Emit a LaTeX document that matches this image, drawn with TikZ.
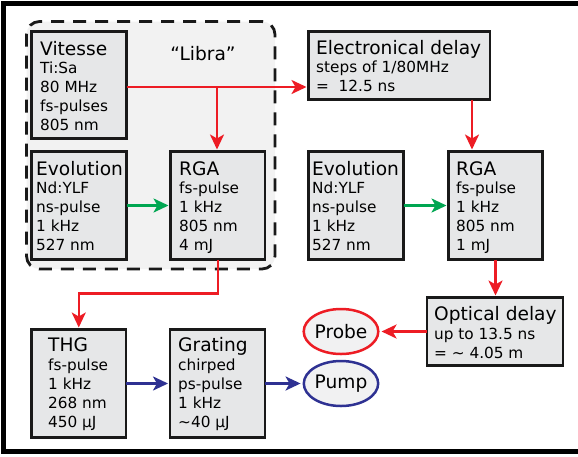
\documentclass[tikz,border=0pt]{standalone}
\usepackage{fontspec}
\setmainfont{DejaVu Sans}
\usetikzlibrary{arrows.meta,shapes.geometric}
\definecolor{lred}{HTML}{ED1C24}
\definecolor{lgreen}{HTML}{00A651}
\definecolor{lblue}{HTML}{2E3192}
\definecolor{boxfill}{HTML}{E6E7E8}
\definecolor{libfill}{HTML}{F2F2F2}
\definecolor{ellfill}{HTML}{F1F1F2}
\newcommand\ttl[1]{{\fontsize{18.6}{18.9}\selectfont #1}}
\tikzset{
  blk/.style={draw=black!90, line width=2.8pt, fill=boxfill, inner sep=0pt, outer sep=0pt, anchor=north west},
  % anchor base west = baseline of the LAST line of the text
  txt/.style={anchor=base west, align=left, inner sep=0pt, font=\fontsize{15.3}{18.9}\selectfont},
  libbox/.style={draw=black!90, line width=2.8pt, dash pattern=on 13pt off 9pt, rounded corners=13pt, fill=libfill, inner sep=0pt, outer sep=0pt, anchor=north west},
  arr/.style={line width=2.5pt, shorten >=2pt, -{Stealth[length=15pt,width=14pt,inset=4pt]}},
  rarr/.style={arr, draw=lred},
  garr/.style={arr, draw=lgreen},
  barr/.style={arr, draw=lblue},
  ell/.style={ellipse, line width=2.5pt, fill=ellfill, minimum width=68pt, minimum height=45pt, inner sep=0pt, font=\fontsize{18.6}{18.9}\selectfont}
}
\begin{document}
\begin{tikzpicture}[x=1pt,y=-1pt]
\useasboundingbox (0,0) rectangle (578,456);
\fill[white] (0,0) rectangle (578,456);
% outer frame
\draw[line width=5pt] (600,3) -- (3.75,3) -- (3.75,451.5) -- (600,451.5);
% Libra group
\node[libbox, minimum width=248.5pt, minimum height=247.5pt] (libra) at (26.5,21.5) {};
\node[anchor=base, inner sep=0pt, font=\fontsize{18.6}{18.9}\selectfont] (libralbl) at (203,60) {“Libra”};
% boxes
\node[blk, minimum width=95pt, minimum height=107pt] (vit) at (31.5,31.5) {};
\node[txt] (vitT) at (40,130.6) {\ttl{Vitesse}\\Ti:Sa\\80 MHz\\fs-pulses\\805 nm};
\node[blk, minimum width=95pt, minimum height=108pt] (evoL) at (31.5,151.5) {};
\node[txt] (evoLT) at (36,250.6) {\ttl{Evolution}\\Nd:YLF\\ns-pulse\\1 kHz\\527 nm};
\node[blk, minimum width=94.5pt, minimum height=108pt] (rgaL) at (170.5,151.5) {};
\node[txt] (rgaLT) at (179,250.6) {\ttl{RGA}\\fs-pulse\\1 kHz\\805 nm\\4 mJ};
\node[blk, minimum width=181.5pt, minimum height=68pt] (ed) at (308.5,31.5) {};
\node[txt] (edT) at (316,91.8) {\ttl{Electronical delay}\\steps of 1/80MHz\\=\ \ 12.5 ns};
\node[blk, minimum width=95pt, minimum height=108pt] (evoR) at (308.5,151.5) {};
\node[txt] (evoRT) at (312,250.6) {\ttl{Evolution}\\Nd:YLF\\ns-pulse\\1 kHz\\527 nm};
\node[blk, minimum width=94pt, minimum height=108pt] (rgaR) at (448.5,151.5) {};
\node[txt] (rgaRT) at (456,250.6) {\ttl{RGA}\\fs-pulse\\1 kHz\\805 nm\\1 mJ};
\node[blk, minimum width=136pt, minimum height=68pt] (opt) at (427,297.5) {};
\node[txt] (optT) at (434,358.5) {\ttl{Optical delay}\\up to 13.5 ns\\= \textasciitilde{} 4.05 m};
\node[blk, minimum width=94.5pt, minimum height=108pt] (thg) at (31.5,329.5) {};
\node[txt] (thgT) at (48,427.3) {\ttl{THG}\\fs-pulse\\1 kHz\\268 nm\\450 µJ};
\node[blk, minimum width=95pt, minimum height=108pt] (grat) at (170,329.5) {};
\node[txt] (gratT) at (178,427.3) {\ttl{Grating}\\chirped\\ps-pulse\\1 kHz\\\textasciitilde40 µJ};
% ellipses
\node[ell, draw=lred] (probe) at (341,331.5) {Probe};
\node[ell, draw=lblue] (pump) at (341,383.5) {Pump};
% connectors
\coordinate (j1) at (217,87);
\coordinate (j2) at (472,0);
\coordinate (j3) at (0,293.3);
\draw[rarr] (vit.east |- j1) -- (ed.west |- j1);
\draw[rarr] (j1) -- (j1 |- rgaL.north);
\draw[rarr] (ed.south -| j2) -- (rgaR.north -| j2);
\draw[garr] (evoL.east) -- (rgaL.west);
\draw[garr] (evoR.east) -- (rgaR.west);
\draw[rarr] (rgaR.south) -- (rgaR.south |- opt.north);
\draw[rarr] (opt.west) -- (probe.east);
\draw[rarr] (rgaL.south) -- (rgaL.south |- j3) -| (thg.north);
\draw[barr] (thg.east) -- (grat.west);
\draw[barr] (grat.east) -- (pump.west);
\end{tikzpicture}
\end{document}
